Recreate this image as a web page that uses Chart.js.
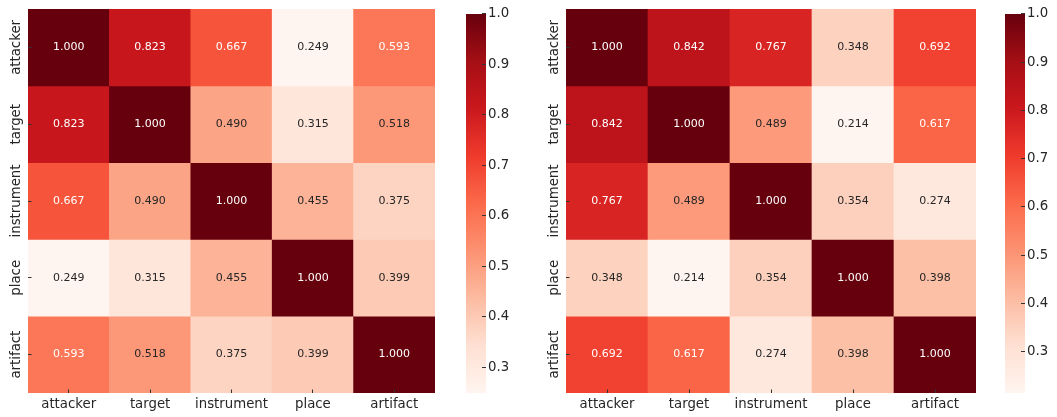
<!DOCTYPE html>
<html>
<head>
<meta charset="utf-8">
<script src="https://cdn.jsdelivr.net/npm/chart.js@4.4.0/dist/chart.umd.min.js"></script>
<style>
  body { margin: 0; background: #fff; }
  #wrap { position: relative; width: 1057px; height: 417px; }
  canvas { position: absolute; top: 0; }
</style>
</head>
<body>
<div id="wrap">
  <canvas id="heatLeft" width="445" height="417" style="left:0px"></canvas>
  <canvas id="barLeft" width="90" height="417" style="left:440px"></canvas>
  <canvas id="heatRight" width="448" height="417" style="left:538px"></canvas>
  <canvas id="barRight" width="77" height="417" style="left:980px"></canvas>
</div>
<script>
// roles, same order on both axes
const roles = ['attacker', 'target', 'instrument', 'place', 'artifact'];

// left matrix
const leftCorr = [
  [1.000, 0.823, 0.667, 0.249, 0.593],
  [0.823, 1.000, 0.490, 0.315, 0.518],
  [0.667, 0.490, 1.000, 0.455, 0.375],
  [0.249, 0.315, 0.455, 1.000, 0.399],
  [0.593, 0.518, 0.375, 0.399, 1.000]
];

// right matrix
const rightCorr = [
  [1.000, 0.842, 0.767, 0.348, 0.692],
  [0.842, 1.000, 0.489, 0.214, 0.617],
  [0.767, 0.489, 1.000, 0.354, 0.274],
  [0.348, 0.214, 0.354, 1.000, 0.398],
  [0.692, 0.617, 0.274, 0.398, 1.000]
];

const colorbarTicks = [0.3, 0.4, 0.5, 0.6, 0.7, 0.8, 0.9, 1.0];

// matplotlib "Reds"
const reds = ['#fff5f0', '#fee0d2', '#fcbba1', '#fc9272', '#fb6a4a', '#ef3b2c', '#cb181d', '#a50f15', '#67000d'];

const FONT = 'DejaVu Sans';
const TXT = '#262626';

function hexRgb(h) {
  return [parseInt(h.slice(1, 3), 16), parseInt(h.slice(3, 5), 16), parseInt(h.slice(5, 7), 16)];
}

function redsRgb(t) {
  t = Math.max(0, Math.min(1, t));
  let p = t * (reds.length - 1);
  let i = Math.min(Math.floor(p), reds.length - 2);
  let f = p - i;
  let a = hexRgb(reds[i]), b = hexRgb(reds[i + 1]);
  return a.map((v, k) => v + (b[k] - v) * f);
}

function rgbStr(c) {
  return 'rgb(' + c.map(v => Math.round(v)).join(',') + ')';
}

// same rule seaborn uses to pick the annotation colour
function textColorFor(c) {
  let lin = c.map(v => {
    v = v / 255;
    return v <= 0.03928 ? v / 12.92 : Math.pow((v + 0.055) / 1.055, 2.4);
  });
  let lum = 0.2126 * lin[0] + 0.7152 * lin[1] + 0.0722 * lin[2];
  return lum > 0.408 ? TXT : '#ffffff';
}

function heatmap(id, matrix) {
  const vmin = Math.min(...matrix.flat());
  const norm = v => (v - vmin) / (1 - vmin);

  const datasets = matrix.map((row, r) => ({
    data: row.map(() => [r, r + 1]),
    backgroundColor: row.map(v => rgbStr(redsRgb(norm(v)))),
    borderWidth: 0,
    grouped: false,
    barPercentage: 1,
    categoryPercentage: 1
  }));

  const annotate = {
    id: 'annotate',
    afterDatasetsDraw(chart) {
      const ctx = chart.ctx;
      ctx.save();
      ctx.font = '11px "' + FONT + '"';
      ctx.textAlign = 'center';
      ctx.textBaseline = 'middle';
      matrix.forEach((row, r) => {
        const meta = chart.getDatasetMeta(r);
        meta.data.forEach((bar, c) => {
          ctx.fillStyle = textColorFor(redsRgb(norm(row[c])));
          ctx.fillText(row[c].toFixed(3), bar.x, (bar.y + bar.base) / 2);
        });
      });
      ctx.restore();
    }
  };

  const rowLabels = {
    id: 'rowLabels',
    afterDraw(chart) {
      const ctx = chart.ctx;
      const ys = chart.scales.y;
      ctx.save();
      ctx.font = '13.3px "' + FONT + '"';
      ctx.fillStyle = TXT;
      ctx.textAlign = 'center';
      ctx.textBaseline = 'middle';
      roles.forEach((name, i) => {
        ctx.save();
        ctx.translate(16.5, ys.getPixelForValue(i + 0.5));
        ctx.rotate(-Math.PI / 2);
        ctx.fillText(name, 0, 0);
        ctx.restore();
      });
      ctx.restore();
    }
  };

  return new Chart(document.getElementById(id), {
    type: 'bar',
    data: { labels: roles, datasets: datasets },
    options: {
      responsive: false,
      animation: false,
      layout: { padding: { top: 9, right: 10, left: 0, bottom: 0 } },
      plugins: { legend: { display: false }, tooltip: { enabled: false } },
      scales: {
        x: {
          offset: true,
          border: { display: false },
          grid: { offset: false, drawOnChartArea: false, tickLength: -3.5, color: '#333', z: 1 },
          ticks: { color: TXT, font: { family: FONT, size: 13.3 }, padding: 7, maxRotation: 0 },
          afterFit: s => { s.height = 24; }
        },
        y: {
          type: 'linear',
          reverse: true,
          min: 0,
          max: roles.length,
          border: { display: false },
          grid: { drawOnChartArea: false, tickLength: -3.5, color: '#333', z: 1 },
          ticks: { display: false },
          afterBuildTicks: s => { s.ticks = roles.map((_, i) => ({ value: i + 0.5 })); },
          afterFit: s => { s.width = 28; }
        }
      }
    },
    plugins: [annotate, rowLabels]
  });
}

function colorbar(id, matrix, padLeft, axisWidth) {
  const vmin = Math.min(...matrix.flat());
  return new Chart(document.getElementById(id), {
    type: 'bar',
    data: {
      labels: [''],
      datasets: [{
        data: [[vmin, 1]],
        borderWidth: 0,
        barPercentage: 1,
        categoryPercentage: 1,
        backgroundColor: function(context) {
          const chart = context.chart;
          if (!chart.chartArea) return reds[0];
          const ys = chart.scales.y;
          const g = chart.ctx.createLinearGradient(0, ys.getPixelForValue(vmin), 0, ys.getPixelForValue(1));
          reds.forEach((c, i) => g.addColorStop(i / (reds.length - 1), c));
          return g;
        }
      }]
    },
    options: {
      responsive: false,
      animation: false,
      layout: { padding: { top: 8, bottom: 24, left: padLeft, right: 0 } },
      plugins: { legend: { display: false }, tooltip: { enabled: false } },
      scales: {
        x: { display: false },
        y: {
          position: 'right',
          min: vmin,
          max: 1,
          border: { display: false },
          grid: { drawOnChartArea: false, tickLength: -4, color: '#333', z: 1 },
          ticks: { color: TXT, font: { family: FONT, size: 13.3 }, padding: 6, callback: v => v.toFixed(1) },
          afterBuildTicks: s => { s.ticks = colorbarTicks.filter(v => v >= vmin).map(v => ({ value: v })); },
          afterFit: s => { s.width = axisWidth; }
        }
      }
    }
  });
}

heatmap('heatLeft', leftCorr);
colorbar('barLeft', leftCorr, 26, 44);
heatmap('heatRight', rightCorr);
colorbar('barRight', rightCorr, 25, 32);
</script>
</body>
</html>
